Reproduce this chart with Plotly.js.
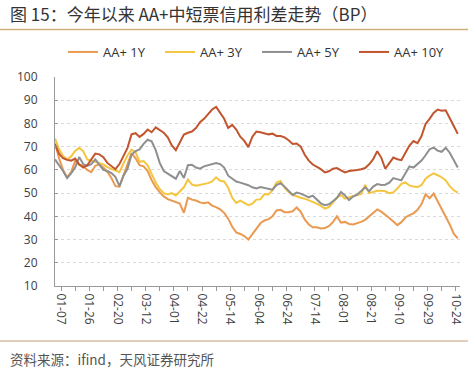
<!DOCTYPE html>
<html><head><meta charset="utf-8">
<script src="https://cdn.plot.ly/plotly-3.0.1.min.js"></script>
<style>html,body{margin:0;padding:0;background:#fff;} #chart{width:468px;height:369px;}</style>
</head><body><div id="chart"></div>
<script>
// sampled trading days (every 2nd trading day, 2025)
const dates = [
'01-02','01-06','01-08','01-10','01-14','01-16','01-20','01-22','01-24','01-27',
'02-06','02-08','02-11','02-13','02-17','02-19','02-21','02-25','02-27','03-03',
'03-05','03-07','03-11','03-13','03-17','03-19','03-21','03-25','03-27','03-31',
'04-02','04-07','04-09','04-11','04-15','04-17','04-21','04-23','04-25','04-28',
'04-30','05-07','05-09','05-13','05-15','05-19','05-21','05-23','05-27','05-29',
'06-03','06-05','06-09','06-11','06-13','06-17','06-19','06-23','06-25','06-27',
'07-01','07-03','07-07','07-09','07-11','07-15','07-17','07-21','07-23','07-25',
'07-29','07-31','08-04','08-06','08-08','08-12','08-14','08-18','08-20','08-22',
'08-26','08-28','09-01','09-03','09-05','09-09','09-11','09-15','09-17','09-19',
'09-23','09-25','09-28','09-30','10-10','10-13','10-15','10-17','10-21','10-23',
'10-27'];

const aa1Y = [
71.5,65,60,56.8,59,63.8,62.2,61.7,60,59,
61.8,62.4,61,59.2,56.5,53,52.8,57.6,63,67.2,
65,62,61.5,59.5,55.5,52.6,50.4,48.6,47.4,46.8,
46.4,45.5,41.5,48,47.2,46.8,46,45.6,46,44.6,
44,43,41.5,39,35.5,33.1,32.4,31.5,30,32.5,
34.5,37,38.2,38.8,40,42.5,42.8,41.8,41.8,42.2,
43.8,42,38.7,36.5,35.3,35.3,34.8,35,35.8,37.5,
40,37.3,37.6,36.7,36.5,37,37.6,38.5,40,41.5,
43,42,40.8,39.3,37.8,36.2,37.5,39.5,40.5,41.3,
42.8,45.3,49.5,47.8,49.8,46.5,43.2,39.5,36.5,32.5,
30.5];

const aa3Y = [
73.5,69,66,64.6,65.8,68.2,69.5,68.1,64.5,63.9,
63.5,63,62.4,61.2,60.5,59.5,59,62.8,66.2,68.7,
67.6,63.5,63.8,62,58,54.5,51.8,50,49.4,50,
49,50.8,52.5,55.8,53.7,53.2,53.5,53.9,54.3,55,
56.8,55.3,55,52.3,48,45.8,46.8,45.8,44.8,45.5,
47.2,47.3,49.6,49.4,51.3,54.5,55.2,52.2,50.5,49.3,
48.6,48,47.6,46.9,46.3,45.5,44.5,43.3,44,46,
48,49.2,47.6,48.2,48.8,49.2,49.6,53.5,50,50.5,
51,51,50.8,50,50.3,52,54,54.6,53.3,52.8,
52.6,53.5,56.2,57.5,58.5,57.7,56.8,55.5,53,51.2,
50.2];

const aa5Y = [
64.5,62.2,59.5,56.5,58.5,61,65.5,62.5,61.7,62.5,
64.5,62.3,60,59.5,58.6,57,53,57.5,60.5,66.5,
68.1,68.8,71.2,73,72.3,68.5,63,59.5,58.3,57.3,
56.2,59.5,56.5,62,62.2,61,60.5,61.5,62,62.2,
63,62.5,61,57.5,56.3,55,54.5,54,53.4,52.5,
52,52.6,52.2,51.7,51.5,53.5,54.3,52.8,50.8,49.2,
50.2,49.8,49,48.2,48.9,47.4,45.6,44.8,45.2,46.5,
48,50.5,49,47,48.5,49.3,51,52.5,50.8,52.8,
53.9,53.5,53.6,54.5,56.5,56,55.5,58.5,61.5,61,
62.5,64,66.3,68.9,69.6,68.3,67.8,69.5,67.4,64.2,
61];

const aa10Y = [
71,67,65,64.3,64,64.9,62.4,61,62,64.6,
67,66.7,65.5,63,61.7,60.3,62.5,66,69.5,75.3,
75.8,74.2,75.5,77.4,76.2,78.3,77.2,76,74,70.5,
68.5,72,75.2,76,76.5,78,80.5,82,83.9,86,
87.1,84.6,82,78.1,79.4,77.4,74.3,72.5,69.8,74.3,
76.5,76.2,75.8,75.3,75.6,74.6,74.6,74,72.8,71.2,
71.4,70,66.5,64,62.3,61.3,60.3,58.9,59.4,60.5,
60.8,59.8,58.9,59.5,59.6,60,60.3,60.8,62.4,64.6,
68,65.3,60.5,63,65.3,64.6,64.2,67.4,70.5,72.4,
71.5,74.6,79.8,82,84.5,86,85.5,85.7,82,78.9,
75.5];

const tickLabels = ['01-07','01-26','02-20','03-12','04-01','04-22','05-14','06-04',
                    '06-24','07-14','08-01','08-21','09-10','09-29','10-24'];
const seriesNames = ['AA+ 1Y','AA+ 3Y','AA+ 5Y','AA+ 10Y'];
const seriesValues = [aa1Y, aa3Y, aa5Y, aa10Y];
const colors = ['#EA9A50','#F4C53E','#8F8F8F','#C2542E'];

const W = 468, H = 369, L = 55, R = 8, T = 77, B = 83;
const pw = W - L - R, ph = H - T - B;
const px = x => (x - L) / pw;
const py = y => (H - B - y) / ph;

// tick positions (category units): labels every 7 samples, minor ticks halfway
const tickvals = [], ticktext = [];
tickLabels.forEach((lab, i) => {
  tickvals.push(1.5 + 7 * i); ticktext.push(lab);
  if (i < tickLabels.length - 1) { tickvals.push(5 + 7 * i); ticktext.push(''); }
});

const traces = seriesNames.map((n, i) => ({
  type: 'scatter', mode: 'lines', name: n, x: dates, y: seriesValues[i],
  line: {color: colors[i], width: 2}
}));

const font = '"Open Sans", "Noto Sans CJK SC", sans-serif';
const layout = {
  width: W, height: H,
  margin: {l: L, r: R, t: T, b: B},
  paper_bgcolor: '#fff', plot_bgcolor: '#fff',
  font: {family: font, color: '#404040', size: 12},
  title: {text: '图 15：今年以来 AA+中短票信用利差走势（BP）',
    x: 10 / W, xanchor: 'left', xref: 'container',
    y: 1 - 15 / H, yanchor: 'middle', yref: 'container',
    font: {family: '"Noto Sans CJK SC", sans-serif', size: 17, color: '#333333'}},
  showlegend: true,
  legend: {orientation: 'h', x: px(63), xanchor: 'left', y: py(52), yanchor: 'middle',
    font: {size: 13, color: '#333'}, entrywidth: 52, entrywidthmode: 'pixels',
    bgcolor: 'rgba(0,0,0,0)', traceorder: 'normal'},
  xaxis: {type: 'category', range: [0, 100.55], tickmode: 'array', tickvals: tickvals,
    ticktext: ticktext, tickangle: 90, ticks: 'outside', ticklen: 4, tickcolor: '#999',
    showline: true, linecolor: '#999', linewidth: 1, showgrid: false, zeroline: false,
    tickfont: {size: 12, color: '#404040'}},
  yaxis: {range: [10, 100], tickmode: 'linear', tick0: 10, dtick: 10,
    ticks: 'inside', ticklen: 3, tickcolor: '#999', ticklabelstandoff: 14,
    showline: true, linecolor: '#999', linewidth: 1, zeroline: false,
    showgrid: true, gridcolor: '#d9d9d9', griddash: 'dot', gridwidth: 1,
    tickfont: {size: 12, color: '#404040'}},
  shapes: [
    {type: 'line', xref: 'paper', yref: 'paper', x0: px(0), x1: px(W), y0: py(29.5), y1: py(29.5),
     line: {color: '#CFAE7C', width: 1.5}},
    {type: 'line', xref: 'paper', yref: 'paper', x0: px(0), x1: px(W), y0: py(341), y1: py(341),
     line: {color: '#C49C74', width: 1}}
  ],
  annotations: [
    {text: '资料来源：ifind，天风证券研究所', xref: 'paper', yref: 'paper',
     x: px(8), y: py(359), xanchor: 'left', yanchor: 'middle', showarrow: false,
     font: {family: '"Noto Sans CJK SC", sans-serif', size: 13.5, color: '#555'}}
  ]
};

Plotly.newPlot('chart', traces, layout, {staticPlot: true, displayModeBar: false});
</script>
</body></html>
